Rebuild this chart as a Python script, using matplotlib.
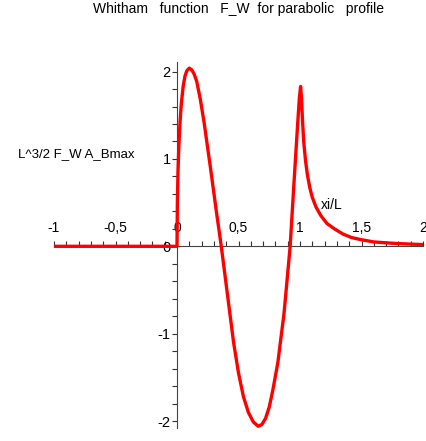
import numpy as np
import matplotlib.pyplot as plt
from matplotlib.ticker import MultipleLocator, FuncFormatter

plt.rcParams['font.family'] = ['Liberation Sans', 'DejaVu Sans']
plt.rcParams['axes.unicode_minus'] = False

# values
xi = [-1.0, 0.0, 0.003, 0.008, 0.015, 0.025, 0.035, 0.05, 0.065, 0.08, 0.1, 0.12,
      0.14, 0.16, 0.19, 0.22, 0.27, 0.32, 0.36, 0.41, 0.46, 0.5, 0.54, 0.58, 0.62,
      0.66, 0.69, 0.72, 0.75, 0.78, 0.82, 0.87, 0.92, 0.95, 0.98, 0.995, 1.005,
      1.012, 1.02, 1.03, 1.045, 1.06, 1.08, 1.1, 1.13, 1.17, 1.22, 1.28, 1.35,
      1.42, 1.5, 1.6, 1.75, 1.9, 2.0]
fw = [0.0, 0.0, 0.5, 0.85, 1.15, 1.43, 1.63, 1.83, 1.95, 2.01, 2.04, 2.02,
      1.97, 1.89, 1.68, 1.42, 0.92, 0.40, 0.0, -0.55, -1.1, -1.45, -1.72, -1.9, -2.01,
      -2.06, -2.04, -1.97, -1.84, -1.64, -1.33, -0.77, 0.0, 0.7, 1.38, 1.7, 1.83,
      1.7, 1.45, 1.2, 0.98, 0.82, 0.67, 0.56, 0.45, 0.35, 0.26, 0.2, 0.14,
      0.1, 0.075, 0.05, 0.035, 0.025, 0.02]

x_major = [-1, -0.5, 0, 0.5, 1, 1.5, 2]
y_major = [-2, -1, 0, 1, 2]

fig = plt.figure(figsize=(4.26, 4.41), dpi=100)
ax = fig.add_axes([54/426, 1-428/441, 369/426, 366/441])
ax.plot(xi, fw, color='red', lw=2.4, zorder=4, solid_joinstyle='round')
ax.set_xlim(-1, 2)
ax.set_ylim(-2.08, 2.11)

for s in ['top', 'right']:
    ax.spines[s].set_visible(False)
ax.spines['left'].set_position(('data', 0))
ax.spines['bottom'].set_position(('data', 0))
for s in ['left', 'bottom']:
    ax.spines[s].set_color('#444444')
    ax.spines[s].set_zorder(3)

ax.set_xticks(x_major)
ax.set_yticks(y_major)
ax.xaxis.set_minor_locator(MultipleLocator(0.1))
ax.yaxis.set_minor_locator(MultipleLocator(0.2))
comma = FuncFormatter(lambda v, p: ('%g' % v).replace('.', ','))
ax.xaxis.set_major_formatter(comma)
ax.yaxis.set_major_formatter(comma)
ax.tick_params(axis='x', which='both', direction='in', length=3.5, width=0.8,
               color='#333333', labelsize=10, pad=-18)
ax.tick_params(axis='y', which='both', direction='out', length=3.5, width=0.8,
               color='#333333', labelsize=10.5, pad=1)

ax.set_ylabel('L^3/2 F_W A_Bmax', rotation=0, ha='right', va='center', fontsize=9.5)
ax.yaxis.set_label_coords(0.217, 0.749)
ax.set_xlabel('xi/L', ha='center', va='center', fontsize=10)
ax.xaxis.set_label_coords(0.752, 0.609)

fig.text(238.5/426, 1-2/441, 'Whitham   function   F_W  for parabolic   profile',
         ha='center', va='top', fontsize=10)

fig.savefig('out.png', dpi=100)
